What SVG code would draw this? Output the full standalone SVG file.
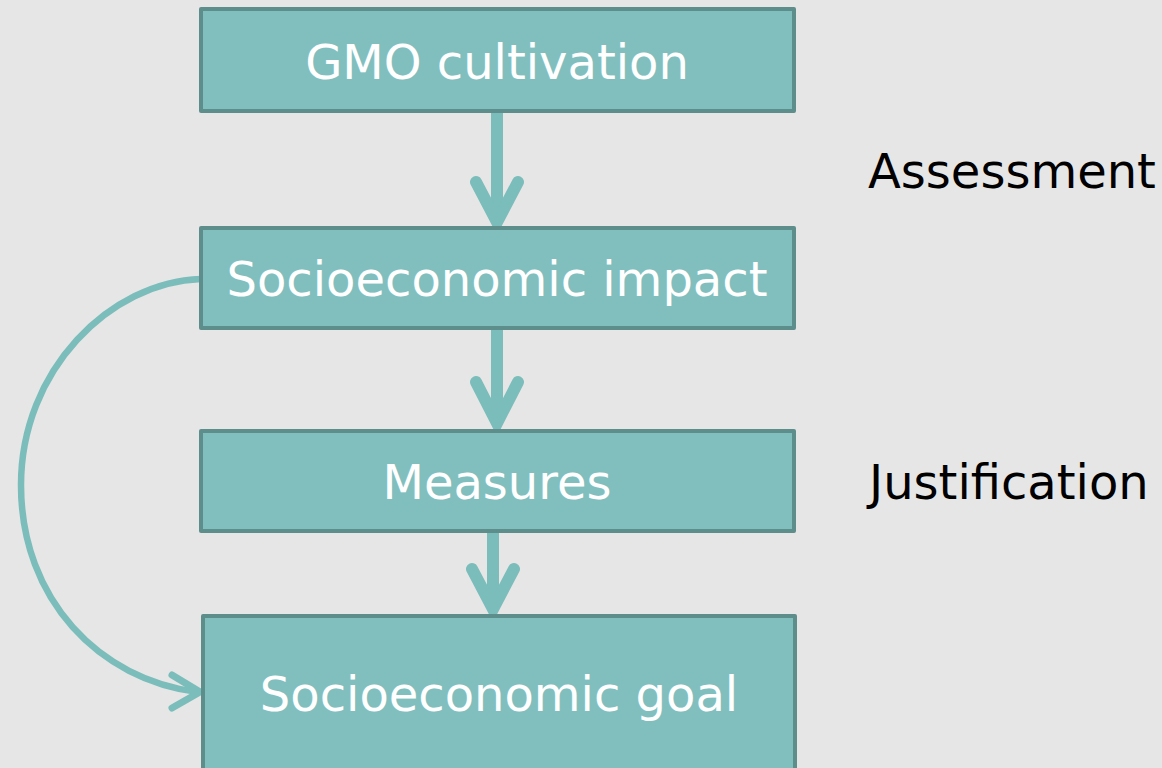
<svg xmlns="http://www.w3.org/2000/svg" width="1162" height="768" viewBox="0 0 1162 768">
<style>
.box{fill:#81bfbf;stroke:#5e8e8c;stroke-width:4;stroke-linejoin:round}
.t{font-family:"DejaVu Sans",Verdana,sans-serif;font-size:48px;fill:#ffffff;text-anchor:middle}
.lbl{font-family:"DejaVu Sans",Verdana,sans-serif;font-size:48px;fill:#000000}
.shaft{fill:none;stroke:#7bbdbb;stroke-width:12}
.head{fill:none;stroke:#7bbdbb;stroke-width:12;stroke-linecap:round;stroke-linejoin:miter}
.curve{fill:none;stroke:#7bbdbb;stroke-width:6.5}
.chev{fill:none;stroke:#7bbdbb;stroke-width:7;stroke-linecap:round;stroke-linejoin:miter}
</style>
<rect width="1162" height="768" fill="#e6e6e6"/>
<g id="connectors">
<path class="shaft" d="M497,112 V218"/>
<path class="head" d="M476,182 L497,222 L518,182"/>
<path class="shaft" d="M497,329 V420"/>
<path class="head" d="M476,382 L497,423 L518,382"/>
<path class="shaft" d="M493,532 V606"/>
<path class="head" d="M472,569 L493,609 L514,569"/>
<path class="curve" d="M201,279 C110,282 21,370 21,485 C21,600 100,680 198,692"/>
<path class="chev" d="M172,675 L200,692 L172,708"/>
</g>
<g id="node-gmo">
<rect class="box" x="201" y="9" width="593" height="102"/>
<text class="t" x="497" y="79">GMO cultivation</text>
</g>
<g id="node-impact">
<rect class="box" x="201" y="228" width="593" height="100"/>
<text class="t" x="497" y="296">Socioeconomic impact</text>
</g>
<g id="node-measures">
<rect class="box" x="201" y="431" width="593" height="100"/>
<text class="t" x="497" y="499">Measures</text>
</g>
<g id="node-goal">
<rect class="box" x="203" y="616" width="592" height="160"/>
<text class="t" x="499" y="711">Socioeconomic goal</text>
</g>
<g id="label-assessment">
<text class="lbl" x="868" y="188">Assessment</text>
</g>
<g id="label-justification">
<text class="lbl" x="869" y="499">Justification</text>
</g>
</svg>
